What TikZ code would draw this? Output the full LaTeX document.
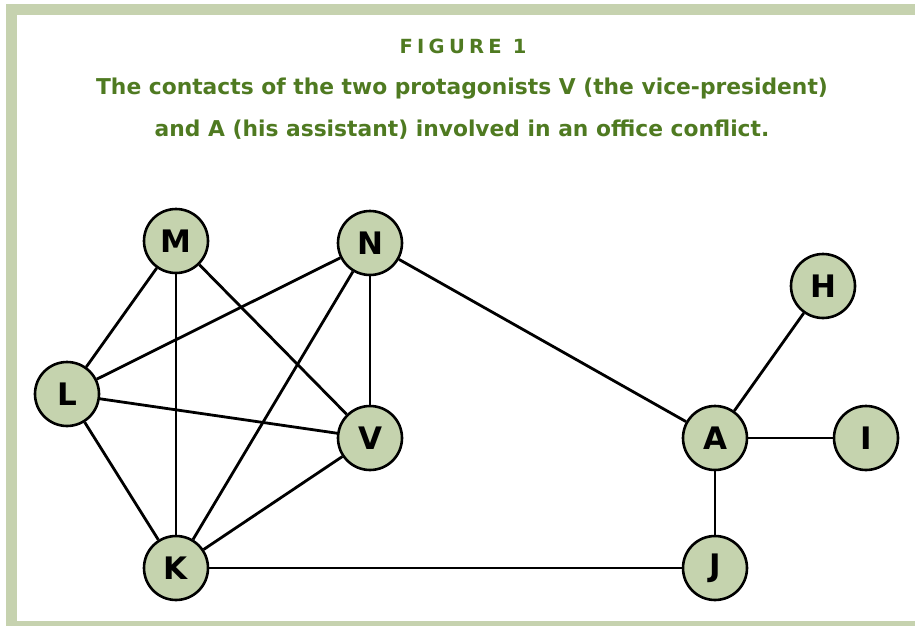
\documentclass[tikz,border=0pt]{standalone}
\usepackage{fontspec}
\setsansfont{DejaVu Sans}
\usetikzlibrary{positioning}
\definecolor{framegreen}{HTML}{C6D2AF}
\definecolor{nodegreen}{HTML}{C5D3AE}
\definecolor{titlegreen}{HTML}{4F7A21}

\begin{document}
\begin{tikzpicture}[x=1pt,y=-1pt,every node/.style={font=\sffamily\bfseries},
  person/.style={circle,draw=black,line width=2.6pt,fill=nodegreen,minimum size=64pt,inner sep=0pt,font=\sffamily\bfseries\fontsize{31}{31}\selectfont},
  tie/.style={line width=2.8pt},
  thintie/.style={line width=2pt}]
\useasboundingbox (0,0) rectangle (915,626);
\begin{scope}
\clip (0,0) rectangle (915,626);
\draw[framegreen,line width=11pt] (11.5,9.5) rectangle (940,626);
\end{scope}
\node[titlegreen,font=\sffamily\bfseries\fontsize{19.5}{19.5}\selectfont\addfontfeature{LetterSpace=22}] (fig) at (463,46) {FIGURE 1};
\node[titlegreen,align=center,font=\sffamily\bfseries\fontsize{21.8}{42}\selectfont] (cap) at (462,109) {The contacts of the two protagonists V (the vice-president)\\and A (his assistant) involved in an office conflict.};
\node[person] (M) at (176,241) {M};
\node[person] (N) at (370,243) {N};
\node[person] (H) at (823,286) {H};
\node[person] (L) at (67,394) {L};
\node[person] (V) at (370,438) {V};
\node[person] (A) at (715,438) {A};
\node[person] (I) at (866,438) {I};
\node[person] (K) at (176,568) {K};
\node[person] (J) at (715,568) {J};
\draw[tie] (M)--(L);
\draw[thintie] (M)--(K);
\draw[tie] (M)--(V);
\draw[tie] (N)--(L);
\draw[tie] (N)--(K);
\draw[thintie] (N)--(V);
\draw[tie] (N)--(A);
\draw[tie] (L)--(V);
\draw[tie] (L)--(K);
\draw[tie] (K)--(V);
\draw[thintie] (K)--(J);
\draw[tie] (A)--(H);
\draw[thintie] (A)--(I);
\draw[thintie] (A)--(J);
\end{tikzpicture}
\end{document}
